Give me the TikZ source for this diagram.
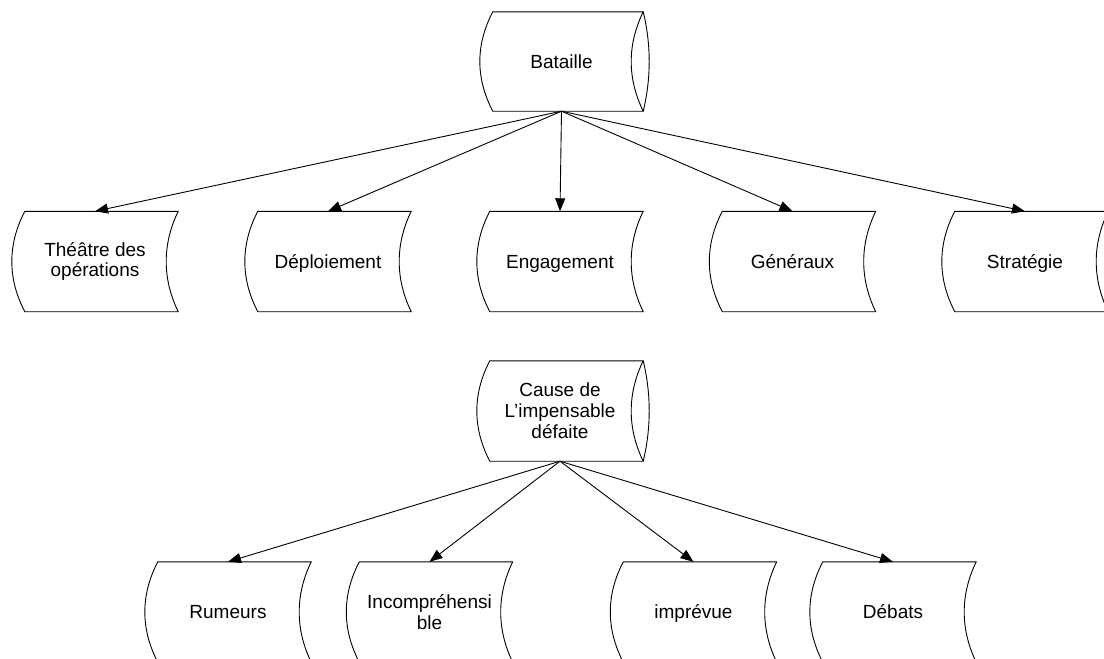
\documentclass[tikz,border=0pt]{standalone}
\usepackage{fontspec}
\setmainfont{Liberation Sans}
\usetikzlibrary{arrows.meta}
\newcommand\sdoutline[1]{%
  \draw[shapeline] ([xshift=13pt]#1.north west) -- (#1.north east)
    .. controls ([xshift=-16pt,yshift=-33pt]#1.north east) and ([xshift=-16pt,yshift=33pt]#1.south east) .. (#1.south east)
    -- ([xshift=13pt]#1.south west)
    .. controls ([xshift=-4.3pt,yshift=33pt]#1.south west) and ([xshift=-4.3pt,yshift=-33pt]#1.north west) .. ([xshift=13pt]#1.north west) -- cycle;}
\newcommand\cyloutline[1]{%
  \sdoutline{#1}
  \draw[shapeline] (#1.north east)
    .. controls ([xshift=8pt,yshift=-33pt]#1.north east) and ([xshift=8pt,yshift=33pt]#1.south east) .. (#1.south east);}
\begin{document}
\begin{tikzpicture}[x=1pt,y=-1pt,
  shapeline/.style={draw=black,line width=0.9pt},
  box/.style={minimum width=166pt,minimum height=100pt,inner sep=0pt,align=center,
    font=\fontsize{19pt}{20.8pt}\selectfont},
  oneline/.style={text height=13.6pt,text depth=0pt},
  arr/.style={draw=black,line width=0.9pt,-{Triangle[length=13pt,width=10pt]}}]
\useasboundingbox[fill=white] (0,0) rectangle (1104,659);
% nodes
\node[box,oneline,minimum width=163pt,minimum height=99pt] (bataille) at (561.5,61.5) {Bataille};
\node[box] (theatre) at (95,261.5) {Théâtre des\\opérations};
\node[box,oneline] (deploiement) at (328,261.5) {Déploiement};
\node[box,oneline] (engagement) at (560,261.5) {Engagement};
\node[box,oneline] (generaux) at (792.5,261.5) {Généraux};
\node[box,oneline] (strategie) at (1025,261.5) {Stratégie};
\node[box] (cause) at (560,411) {Cause de\\L'impensable\\défaite};
\node[box,oneline] (rumeurs) at (228,612) {Rumeurs};
\node[box] (incomp) at (429.5,612) {Incompréhensi\\ble};
\node[box,oneline] (imprevue) at (693.5,612) {imprévue};
\node[box,oneline] (debats) at (893,612) {Débats};
% outlines
\cyloutline{bataille}
\cyloutline{cause}
\foreach \n in {theatre,deploiement,engagement,generaux,strategie,rumeurs,incomp,imprevue,debats}{\sdoutline{\n}}
% connectors
\foreach \n in {theatre,deploiement,engagement,generaux,strategie}{\draw[arr] (bataille.south) -- (\n.north);}
\foreach \n in {rumeurs,incomp,imprevue,debats}{\draw[arr] (cause.south) -- (\n.north);}
\end{tikzpicture}
\end{document}
